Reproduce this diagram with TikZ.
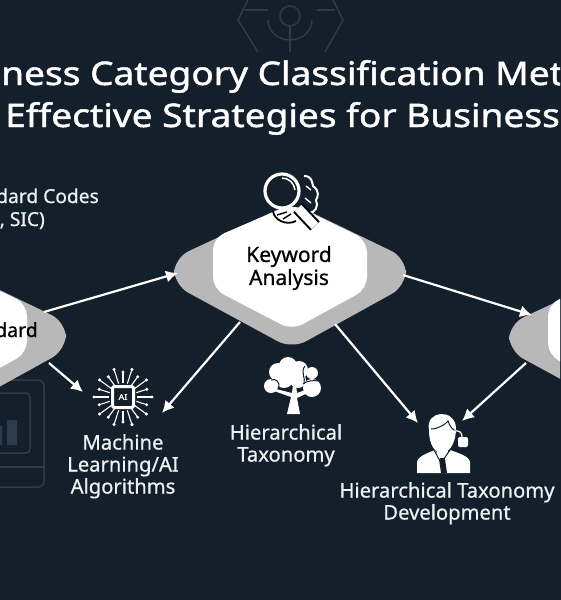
\documentclass[tikz,border=0pt]{standalone}
\usepackage{fontspec}
\setmainfont{Noto Sans}
\newfontfamily\titlefont[FakeBold=1.4,FakeStretch=1.14]{Noto Sans}
\newfontfamily\labelfont[FakeBold=0.7]{Noto Sans}
\usetikzlibrary{arrows.meta,positioning,calc}
\definecolor{bgdark}{HTML}{141F2C}
\definecolor{hexgray}{HTML}{B8B8B8}
\definecolor{faintline}{HTML}{2E3B4A}
\definecolor{labelwhite}{HTML}{EEF1F4}

\begin{document}
\begin{tikzpicture}[
  x=1pt, y=-1pt,
  arr/.style={-{Latex[length=12pt,width=12pt]}, line width=2.2pt, white},
  titletext/.style={inner sep=0pt, text=white, font=\titlefont\fontsize{32.5}{32.5}\selectfont},
  hextext/.style={align=center, inner sep=0pt, text=black, font=\labelfont\fontsize{21}{23}\selectfont},
  sidetext/.style={align=center, inner sep=0pt, text=labelwhite, font=\labelfont\fontsize{20.2}{22}\selectfont},
  faint/.style={draw=faintline, line width=1.5pt},
  trace/.style={white, line width=1.1pt},
  cut/.style={draw=bgdark, line width=1pt}
]
\useasboundingbox (0,0) rectangle (560,600);
\fill[bgdark] (-5,-5) rectangle (565,605);
\clip (0,0) rectangle (560,600);

% faint icons behind
\draw[faint] (248,0) -- (238,20) -- (258,52);
\draw[faint] (333,0) -- (343,20) -- (325,52);
\draw[faint] (245,10) -- (268,10);
\draw[faint] (317,10) -- (335,10);
\draw[faint] (268,20) arc (180:0:22 and 20);
\draw[faint] (290,16) circle (10);
\draw[faint] (290,27) -- (290,52);
\draw[faint, rounded corners=6pt] (-20,380) rectangle (44,487);
\draw[faint, rounded corners=4pt] (-10,393) rectangle (30,453);
\draw[faint] (-20,467) -- (44,467);
\fill[faintline] (7,420) rectangle (17,445) (-4,426) rectangle (2,445);

% title
\node[titletext, anchor=base west] (title1) at (1,85) {ness Category Classification Met};
\node[titletext, anchor=base west] (title2) at (5,127) {Effective Strategies for Business};

% hexagons
\foreach \nm/\cx/\cy in {standard/-50/340, keyword/290/276, right/625/342} {
  \begin{scope}[shift={(\cx,\cy)}]
    \fill[hexgray, rounded corners=16pt] (2,-73) -- (116,-18) -- (116,10) -- (2,73) -- (-116,9) -- (-116,-18) -- cycle;
    \fill[white, rounded corners=12pt] (2,-72) -- (77,-36) -- (77,13) -- (2,54) -- (-77,13) -- (-77,-38) -- cycle;
    \coordinate (\nm) at (0,0);
  \end{scope}
}
\node[hextext, anchor=base east, font=\labelfont\fontsize{19.5}{23}\selectfont] (stdname) at (38,337) {dard};
\node[hextext] (keyname) at (289,268) {Keyword\\Analysis};

% ends of the arrows
\coordinate (stdNE) at (44,312);
\coordinate (stdSE) at (49,363);
\coordinate (keyW) at (178,273);
\coordinate (keySW) at (240,322);
\coordinate (keySE) at (335,324);
\coordinate (keyE) at (403,275);
\coordinate (rightNW) at (532,315);
\coordinate (rightSW) at (526,363);
\coordinate (aiN) at (83,392);
\coordinate (aiE) at (162,413);
\coordinate (userW) at (418,423);
\coordinate (userE) at (462,421);

\draw[arr] (stdNE) -- (keyW);
\draw[arr] (stdSE) -- (aiN);
\draw[arr] (keySW) -- (aiE);
\draw[arr] (keySE) -- (userW);
\draw[arr] (keyE) -- (rightNW);
\draw[arr] (rightSW) -- (userE);

% texts
\node[sidetext, anchor=base east, font=\labelfont\fontsize{19.2}{22}\selectfont] (codes) at (99,203) {dard Codes};
\node[sidetext, anchor=base east, font=\labelfont\fontsize{19.2}{22}\selectfont] (sic) at (45,226) {, SIC)};
\node[sidetext, anchor=north] (mlname) at (123,434) {Machine\\Learning/AI\\Algorithms};
\node[sidetext, anchor=north] (taxname) at (286,424) {Hierarchical\\Taxonomy};
\node[sidetext, anchor=north] (devname) at (447,482) {Hierarchical Taxonomy\\Development};

% magnifier and brain
\draw[white, line width=2pt] (304,176) .. controls (312,176) and (312,182) .. (313,186) .. controls (320,191) and (318,197) .. (316,200) .. controls (319,206) and (315,213) .. (309,213);
\draw[white, line width=1.4pt] (306,186) -- (311,190) (305,198) -- (311,203);
\draw[black, line width=1.8pt] (273,211) .. controls (274,220) and (286,226) .. (296,221);
\draw[black, line width=1.4pt] (277,215) -- (287,212) (283,219) -- (291,214);
\draw[black, line width=13pt] (298,208) -- (315,226);
\draw[white, line width=9pt] (298,208) -- (315,226);
\node[circle, draw=white, fill=bgdark, line width=3.2pt, minimum size=34pt, inner sep=0pt] (lens) at (282,191) {};
\draw[white, line width=1.5pt] (282,178) arc (-90:-5:13);

% chip
\begin{scope}[shift={(123,397)}]
  \foreach \a [count=\i] in {0,18,...,342} {
    \pgfmathsetmacro{\rr}{25+4*mod(\i,2)}
    \draw[trace] (\a:14) -- (\a:\rr);
    \fill[white] (\a:\rr) circle (1.7);
  }
\end{scope}
\node[draw=white, fill=bgdark, line width=3pt, rounded corners=2pt, minimum size=21pt, inner sep=0pt, text=white, font=\titlefont\fontsize{8}{8}\selectfont] (chip) at (123,397) {AI};

% tree
\fill[white] (287,414) -- (291,397) -- (274,391) -- (276,389) -- (292,393) -- (293,385) -- (296,385) -- (297,393) -- (311,388) -- (312,391) -- (297,398) -- (300,414) -- cycle;
\foreach \tx/\ty/\tr in {288/366/9, 278/372/9, 299/370/9, 271/386/7, 284/378/10, 298/380/8, 312/388/9, 312/373/6} {
  \fill[white] (\tx,\ty) circle (\tr);
}
\draw[cut] (305,366) .. controls (300,372) and (306,378) .. (304,384);
\draw[cut] (271,380) .. controls (276,378) and (280,382) .. (279,388);
\draw[cut] (303,384) .. controls (306,381) and (314,380) .. (318,381);

% person
\fill[white] (429,430) .. controls (425,410) and (455,408) .. (456,428) .. controls (456,445) and (448,453) .. (442,453) .. controls (435,453) and (429,445) .. (429,430) -- cycle;
\draw[cut] (431,429) .. controls (438,429) and (446,424) .. (448,421) .. controls (450,427) and (453,430) .. (456,431);
\fill[white] (437,448) rectangle (448,458);
\fill[white] (417,473) -- (417,462) .. controls (418,456) and (428,453) .. (435,450) -- (442,462) -- (450,450) .. controls (458,453) and (469,456) .. (470,462) -- (470,473) -- cycle;
\draw[cut] (434,450) -- (441,463) -- (450,450);
\fill[bgdark] (439,459) -- (445,459) -- (447,473) -- (441,473) -- cycle;
\draw[white, line width=1.2pt] (454,431) .. controls (460,430) and (462,433) .. (462,437);
\fill[white, rounded corners=2pt] (458,437) rectangle (468,447);
\end{tikzpicture}
\end{document}
